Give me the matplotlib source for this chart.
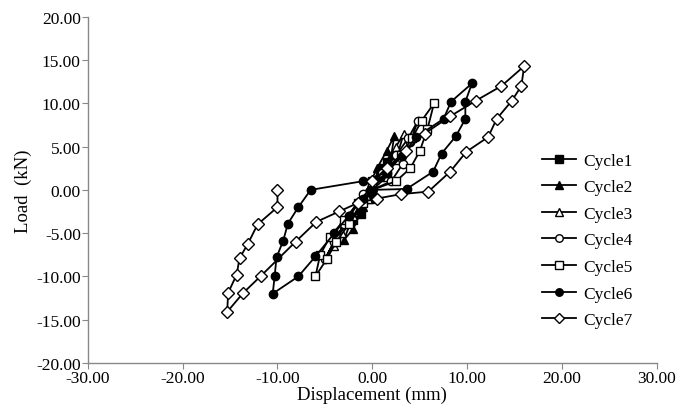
import matplotlib
matplotlib.use("Agg")
import matplotlib.pyplot as plt

plt.rcParams["font.family"] = ["Liberation Serif", "DejaVu Serif"]

# =========================
# DATA
# =========================
c1_x = [0.0, 0.8, 1.5, 1.0, 0.0, -1.0, -2.0, -1.2, -0.3, 0.0]
c1_y = [0.0, 1.5, 3.2, 2.5, 1.0, -1.2, -3.5, -2.8, -1.0, 0.0]

c2_x = [0.0, 1.2, 2.0, 2.3, 1.5, 0.5, -1.0, -2.2, -3.0, -2.0, -1.0, 0.0]
c2_y = [0.0, 1.8, 4.0, 6.2, 4.5, 2.5, -1.0, -3.5, -5.8, -4.5, -2.0, 0.0]

c3_x = [0.0, 1.5, 2.5, 3.3, 2.5, 1.5, 0.0, -1.5, -3.0, -4.0, -3.2, -2.0, -0.5, 0.0]
c3_y = [0.0, 1.5, 3.5, 6.5, 5.0, 3.0, 1.0, -1.5, -4.0, -6.5, -5.0, -3.0, -1.0, 0.0]

c4_x = [0.0, 2.0, 3.2, 4.0, 4.8, 3.8, 2.5, 1.0, -1.0, -2.5, -3.8, -5.0, -4.0, -3.0, -1.5, 0.0]
c4_y = [0.0, 1.0, 3.0, 5.5, 8.0, 6.0, 4.0, 2.0, -0.5, -3.0, -5.5, -8.0, -6.0, -4.0, -1.5, 0.0]

c5_x = [0.0, 2.5, 4.0, 5.0, 5.8, 6.5, 5.2, 4.2, 3.0, 1.5, 0.0, -1.5, -3.0, -4.5, -5.5, -6.0, -4.8, -3.8, -2.5, -1.0, 0.0]
c5_y = [0.0, 1.0, 2.5, 4.5, 7.0, 10.0, 8.0, 6.0, 4.0, 2.0, 0.5, -1.5, -3.5, -5.5, -7.5, -10.0, -8.0, -6.0, -4.0, -1.5, 0.0]

c6_x = [0.0, 3.6, 6.4, 7.3, 8.8, 9.8, 9.8, 10.5, 8.3, 7.5, 4.6, 3.1, 1.5, -1.0, -6.5,
        -7.8, -8.9, -9.4, -10.1, -10.3, -10.5, -7.8, -6.0, -4.0, -2.5, -1.0, 0.0]
c6_y = [0.0, 0.1, 2.1, 4.2, 6.2, 8.2, 10.2, 12.3, 10.2, 8.2, 6.1, 3.9, 2.0, 1.0, 0.0,
        -2.0, -3.9, -5.9, -7.8, -10.0, -12.0, -10.0, -7.7, -5.0, -3.0, -1.0, 0.0]

c7_x = [-10.0, -10.0, -12.1, -13.1, -14.0, -14.3, -15.2, -15.3, -13.6, -11.7, -8.1, -5.9,
        -3.5, -1.5, 0.5, 3.0, 5.9, 8.2, 9.9, 12.2, 13.1, 14.7, 15.7, 16.0,
        13.6, 10.9, 8.2, 5.5, 3.5, 1.5, 0.0]
c7_y = [0.0, -2.0, -4.0, -6.2, -7.9, -9.8, -11.9, -14.1, -11.9, -9.9, -6.0, -3.7,
        -2.5, -1.5, -1.0, -0.5, -0.2, 2.1, 4.4, 6.1, 8.2, 10.3, 12.0, 14.3,
        12.0, 10.3, 8.5, 6.5, 4.5, 2.5, 1.0]

labels = ["Cycle1", "Cycle2", "Cycle3", "Cycle4", "Cycle5", "Cycle6", "Cycle7"]
xs = [c1_x, c2_x, c3_x, c4_x, c5_x, c6_x, c7_x]
ys = [c1_y, c2_y, c3_y, c4_y, c5_y, c6_y, c7_y]

# marker, face colour
styles = [("s", "black"), ("^", "black"), ("^", "white"), ("o", "white"),
          ("s", "white"), ("o", "black"), ("D", "white")]

# =========================
# PLOT
# =========================
fig = plt.figure(figsize=(6.96, 4.14), dpi=100)
ax = fig.add_axes([0.126, 0.121, 0.818, 0.836])

for x, y, lab, (m, fc) in zip(xs, ys, labels, styles):
    ax.plot(x, y, color="black", lw=1.3, marker=m, markersize=6,
            markerfacecolor=fc, markeredgecolor="black", markeredgewidth=1.0,
            label=lab)

ax.set_xlim(-30, 30)
ax.set_ylim(-20, 20)
ax.set_xticks([-30, -20, -10, 0, 10, 20, 30])
ax.set_yticks([-20, -15, -10, -5, 0, 5, 10, 15, 20])
ax.set_xticklabels([f"{v:.2f}" for v in ax.get_xticks()])
ax.set_yticklabels([f"{v:.2f}" for v in ax.get_yticks()])

for side in ["top", "right"]:
    ax.spines[side].set_visible(False)
for side in ["left", "bottom"]:
    ax.spines[side].set_color("#888888")
    ax.spines[side].set_linewidth(1.0)
ax.tick_params(colors="#888888", labelcolor="black", labelsize=12.5, length=4, pad=1)

ax.set_xlabel("Displacement (mm)", fontsize=13.5, labelpad=0)
ax.set_ylabel("Load  (kN)", fontsize=13.5, labelpad=3)

ax.legend(loc="center left", bbox_to_anchor=(0.77, 0.354), frameon=False,
          fontsize=12.5, handlelength=2.0, labelspacing=0.6, handletextpad=0.4,
          markerscale=0.9)

fig.savefig("out.png", dpi=100)
